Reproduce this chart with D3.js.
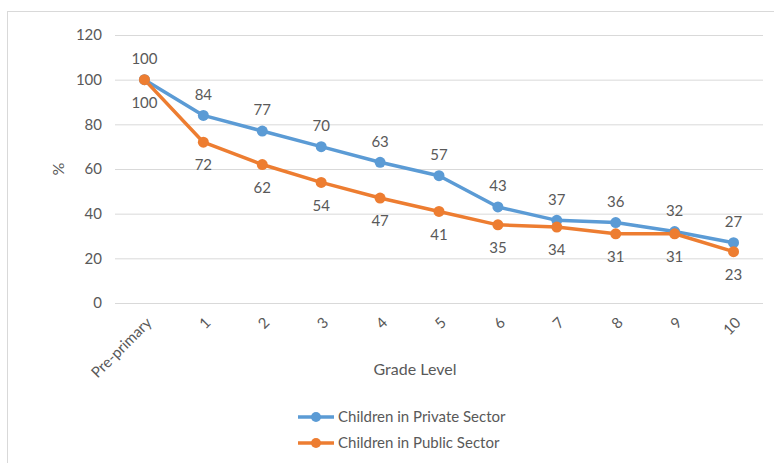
<!DOCTYPE html>
<html>
<head>
<meta charset="utf-8">
<script src="https://cdn.jsdelivr.net/npm/d3@7"></script>
<style>
  html, body { margin: 0; padding: 0; background: #fff; }
  svg { display: block; font-family: Lato, "Open Sans", sans-serif; }
</style>
</head>
<body>
<svg id="chart" width="774" height="463"></svg>
<script>
// Grade levels and percentage of children retained in each sector
const grades = ["Pre-primary", "1", "2", "3", "4", "5", "6", "7", "8", "9", "10"];
const privateSector = [100, 84, 77, 70, 63, 57, 43, 37, 36, 32, 27];
const publicSector = [100, 72, 62, 54, 47, 41, 35, 34, 31, 31, 23];
const yTicks = [0, 20, 40, 60, 80, 100, 120];
const seriesNames = ["Children in Private Sector", "Children in Public Sector"];

const colors = ["#5B9BD5", "#ED7D31"];
const textColor = "#595959";

const svg = d3.select("#chart");

// Chart frame
svg.append("rect")
  .attr("x", 7.5).attr("y", 11.5)
  .attr("width", 800).attr("height", 500)
  .attr("fill", "#fff").attr("stroke", "#d9d9d9").attr("stroke-width", 1);

const plotLeft = 115, plotRight = 763, plotTop = 35, plotBottom = 303;

const x = d3.scalePoint().domain(grades).range([plotLeft, plotRight]).padding(0.5);
const y = d3.scaleLinear().domain([0, 120]).range([plotBottom, plotTop]);

// Horizontal gridlines and y tick labels
const yAxis = svg.append("g").attr("transform", `translate(${plotLeft},0)`)
  .call(d3.axisLeft(y).tickValues(yTicks).tickSize(-(plotRight - plotLeft)).tickPadding(13));
yAxis.select(".domain").remove();
yAxis.selectAll(".tick line").attr("stroke", "#d9d9d9").attr("stroke-width", 1);
yAxis.selectAll(".tick text")
  .attr("fill", textColor).attr("font-size", 15).attr("font-family", "Lato, sans-serif");

// X tick labels, rotated
const xAxis = svg.append("g").attr("transform", `translate(0,${plotBottom})`)
  .call(d3.axisBottom(x).tickSize(0).tickPadding(0));
xAxis.select(".domain").remove();
xAxis.selectAll(".tick text")
  .attr("fill", textColor).attr("font-size", 15).attr("font-family", "Lato, sans-serif")
  .attr("text-anchor", "end")
  .attr("dy", "0.35em")
  .attr("transform", "translate(4,17) rotate(-45)");

// Axis titles
svg.append("text")
  .attr("x", 415).attr("y", 375)
  .attr("text-anchor", "middle")
  .attr("fill", textColor).attr("font-size", 16)
  .text("Grade Level");

svg.append("text")
  .attr("transform", `translate(64,${(plotTop + plotBottom) / 2}) rotate(-90)`)
  .attr("text-anchor", "middle")
  .attr("fill", textColor).attr("font-size", 16)
  .text("%");

// Series lines, markers and value labels
const series = [privateSector, publicSector];
const line = d3.line().x((d, i) => x(grades[i])).y(d => y(d));

series.forEach((vals, s) => {
  svg.append("path")
    .datum(vals)
    .attr("d", line)
    .attr("fill", "none")
    .attr("stroke", colors[s])
    .attr("stroke-width", 3.5)
    .attr("stroke-linejoin", "round");
});

series.forEach((vals, s) => {
  svg.append("g").selectAll("circle")
    .data(vals)
    .join("circle")
    .attr("cx", (d, i) => x(grades[i]))
    .attr("cy", d => y(d))
    .attr("r", 5.5)
    .attr("fill", colors[s]);
});

series.forEach((vals, s) => {
  const offset = s === 0 ? -21 : 23;
  svg.append("g").selectAll("text")
    .data(vals)
    .join("text")
    .attr("x", (d, i) => x(grades[i]))
    .attr("y", d => y(d) + offset)
    .attr("dy", "0.35em")
    .attr("text-anchor", "middle")
    .attr("fill", textColor)
    .attr("font-size", 15)
    .text(d => d);
});

// Legend
const legend = svg.append("g");
seriesNames.forEach((name, s) => {
  const ly = 417 + s * 26;
  legend.append("line")
    .attr("x1", 298).attr("x2", 334).attr("y1", ly).attr("y2", ly)
    .attr("stroke", colors[s]).attr("stroke-width", 3.5);
  legend.append("circle")
    .attr("cx", 316).attr("cy", ly).attr("r", 5).attr("fill", colors[s]);
  legend.append("text")
    .attr("x", 338).attr("y", ly).attr("dy", "0.35em")
    .attr("fill", textColor).attr("font-size", 15)
    .text(name);
});
</script>
</body>
</html>
